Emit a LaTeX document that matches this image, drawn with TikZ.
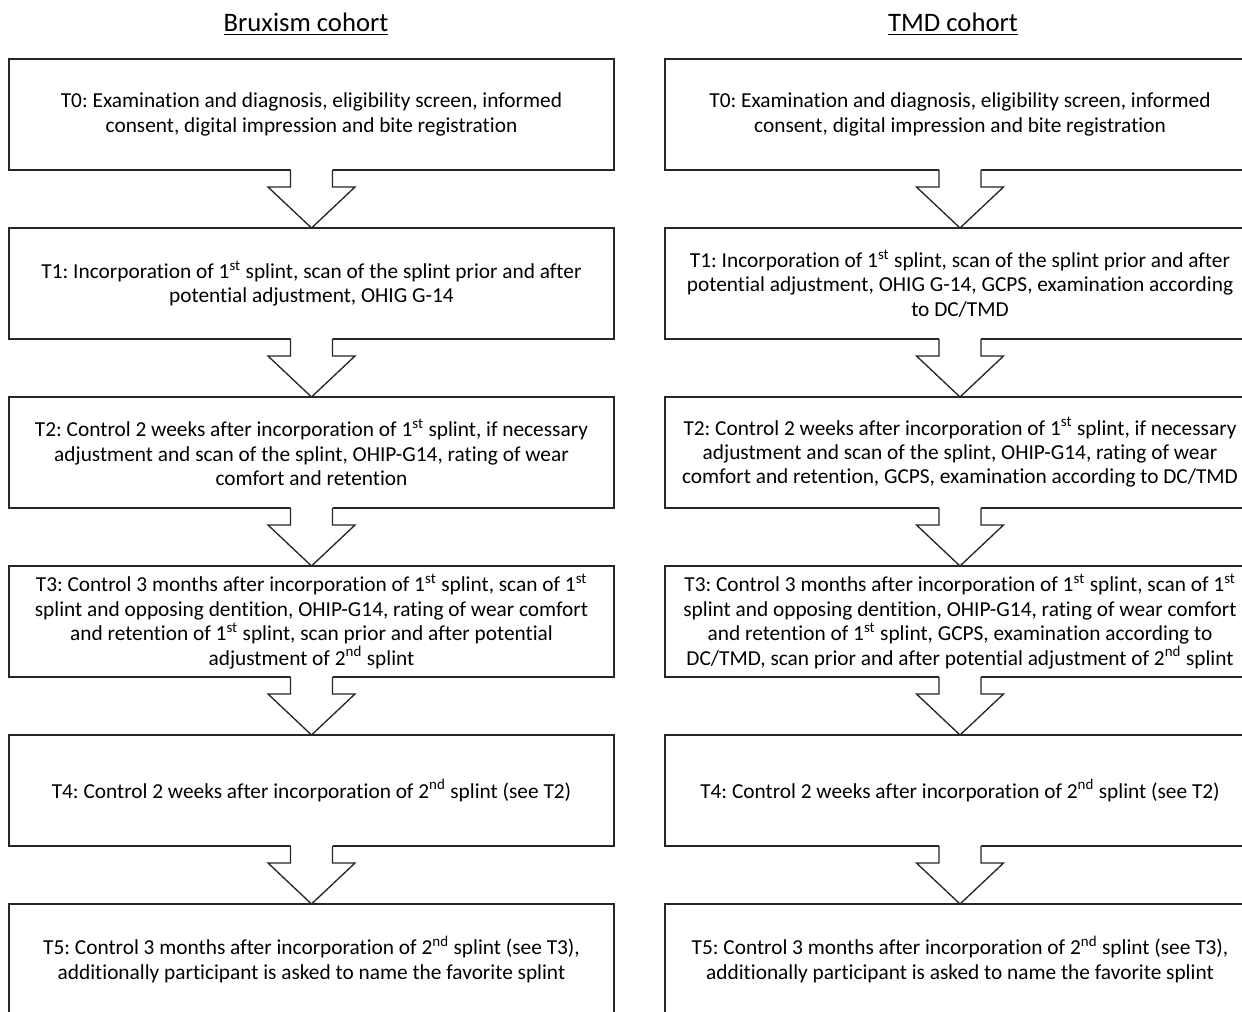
\documentclass[tikz,border=0pt]{standalone}
\usepackage{fontspec}
\setmainfont{Carlito}[Ligatures=NoCommon]
\frenchspacing
\usetikzlibrary{calc}
% hollow block arrow from the bottom of one box to the top of the next
\newcommand{\visitarrow}[2]{%
  \fill[white] ($(#1.south)+(-21,-2)$) -- ($(#1.south)+(-21,17)$) -- ($(#1.south)+(-43.5,17)$)
    -- (#2.north) -- ($(#1.south)+(43.5,17)$) -- ($(#1.south)+(21,17)$) -- ($(#1.south)+(21,-2)$) -- cycle;
  \draw[flowline] ($(#1.south)+(-21,0)$) -- ($(#1.south)+(-21,17)$) -- ($(#1.south)+(-43.5,17)$)
    -- (#2.north) -- ($(#1.south)+(43.5,17)$) -- ($(#1.south)+(21,17)$) -- ($(#1.south)+(21,0)$);
}
\begin{document}
\begin{tikzpicture}[x=0.75pt, y=-0.75pt,
        flowline/.style={draw=black!85, line width=1pt, line join=miter},
        visit/.style={draw=black!85, line width=1pt, outer sep=0pt, align=center, minimum height=111*0.75pt,
            font=\fontsize{16}{18.3}\selectfont},
        cohort/.style={font=\fontsize{20}{24}\selectfont, inner sep=0pt}]
    \useasboundingbox (0,0) rectangle (1242,1012);
    \clip (0,0) rectangle (1242,1012);
    % headings
    \node[cohort] (brux) at (306,24) {\underline{Bruxism cohort}};
    \node[cohort] (tmd) at (953,24) {\underline{TMD cohort}};
    % Bruxism cohort
    \node[visit, minimum width=605*0.75pt] (b0) at (311.5,114.5) {T0: Examination and diagnosis, eligibility screen, informed\\consent, digital impression and bite registration};
    \node[visit, minimum width=605*0.75pt] (b1) at (311.5,283.5) {T1: Incorporation of 1\textsuperscript{st} splint, scan of the splint prior and after\\potential adjustment, OHIG G-14};
    \node[visit, minimum width=605*0.75pt] (b2) at (311.5,452.5) {T2: Control 2 weeks after incorporation of 1\textsuperscript{st} splint, if necessary\\adjustment and scan of the splint, OHIP-G14, rating of wear\\comfort and retention};
    \node[visit, minimum width=605*0.75pt] (b3) at (311.5,621.5) {T3: Control 3 months after incorporation of 1\textsuperscript{st} splint, scan of 1\textsuperscript{st}\\splint and opposing dentition, OHIP-G14, rating of wear comfort\\and retention of 1\textsuperscript{st} splint, scan prior and after potential\\adjustment of 2\textsuperscript{nd} splint};
    \node[visit, minimum width=605*0.75pt] (b4) at (311.5,790.5) {T4: Control 2 weeks after incorporation of 2\textsuperscript{nd} splint (see T2)};
    \node[visit, minimum width=605*0.75pt] (b5) at (311.5,959.5) {T5: Control 3 months after incorporation of 2\textsuperscript{nd} splint (see T3),\\additionally participant is asked to name the favorite splint};
    % TMD cohort
    \node[visit, minimum width=590*0.75pt] (t0) at (960,114.5) {T0: Examination and diagnosis, eligibility screen, informed\\consent, digital impression and bite registration};
    \node[visit, minimum width=590*0.75pt] (t1) at (960,283.5) {T1: Incorporation of 1\textsuperscript{st} splint, scan of the splint prior and after\\potential adjustment, OHIG G-14, GCPS, examination according\\to DC/TMD};
    \node[visit, minimum width=590*0.75pt] (t2) at (960,452.5) {T2: Control 2 weeks after incorporation of 1\textsuperscript{st} splint, if necessary\\adjustment and scan of the splint, OHIP-G14, rating of wear\\comfort and retention, GCPS, examination according to DC/TMD};
    \node[visit, minimum width=590*0.75pt] (t3) at (960,621.5) {T3: Control 3 months after incorporation of 1\textsuperscript{st} splint, scan of 1\textsuperscript{st}\\splint and opposing dentition, OHIP-G14, rating of wear comfort\\and retention of 1\textsuperscript{st} splint, GCPS, examination according to\\DC/TMD, scan prior and after potential adjustment of 2\textsuperscript{nd} splint};
    \node[visit, minimum width=590*0.75pt] (t4) at (960,790.5) {T4: Control 2 weeks after incorporation of 2\textsuperscript{nd} splint (see T2)};
    \node[visit, minimum width=590*0.75pt] (t5) at (960,959.5) {T5: Control 3 months after incorporation of 2\textsuperscript{nd} splint (see T3),\\additionally participant is asked to name the favorite splint};
    % arrows
    \visitarrow{b0}{b1} \visitarrow{b1}{b2} \visitarrow{b2}{b3} \visitarrow{b3}{b4} \visitarrow{b4}{b5}
    \visitarrow{t0}{t1} \visitarrow{t1}{t2} \visitarrow{t2}{t3} \visitarrow{t3}{t4} \visitarrow{t4}{t5}
\end{tikzpicture}
\end{document}
